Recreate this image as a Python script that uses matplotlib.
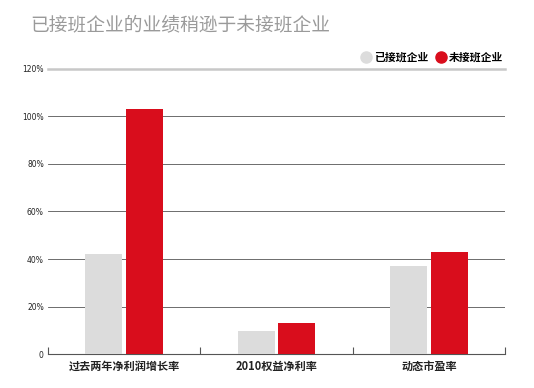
import matplotlib.pyplot as plt
import numpy as np

plt.rcParams['font.family'] = ['Noto Sans CJK SC', 'DejaVu Sans']

categories = ['过去两年净利润增长率', '2010权益净利率', '动态市盈率']
series_names = ['已接班企业', '未接班企业']
taken_over = [42, 9.7, 37]
not_taken_over = [103, 13, 43]
y_ticks = [0, 20, 40, 60, 80, 100, 120]
y_labels = ['0', '20%', '40%', '60%', '80%', '100%', '120%']

gray = '#dcdcdc'
red = '#d90d1c'

fig = plt.figure(figsize=(5.34, 3.88), dpi=100)
ax = fig.add_axes([0.0899, 0.0876, 0.8558, 0.7346])

x = np.arange(len(categories))
w = 0.243
ax.bar(x - 0.133, taken_over, w, color=gray, zorder=3)
ax.bar(x + 0.133, not_taken_over, w, color=red, zorder=3)

ax.set_xlim(-0.5, 2.5)
ax.set_ylim(0, 120)

ax.set_yticks(y_ticks)
ax.set_yticklabels(y_labels, fontsize=5.5, color='#222222', family='DejaVu Sans')
ax.tick_params(axis='y', length=0, pad=3)
ax.yaxis.grid(True, color='#555555', linewidth=0.6, zorder=0)

ax.set_xticks([-0.5, 0.5, 1.5, 2.5])
ax.set_xticklabels([])
ax.tick_params(axis='x', which='major', direction='in', length=5, color='#555555', width=0.8)
ax.set_xticks(x, minor=True)
ax.set_xticklabels(categories, minor=True, fontsize=8, fontweight='bold', color='#222222')
ax.tick_params(axis='x', which='minor', length=0, pad=4)

for s in ['left', 'right']:
    ax.spines[s].set_visible(False)
ax.spines['bottom'].set_color('#555555')
ax.spines['bottom'].set_linewidth(0.8)
ax.spines['top'].set_color('#c8c8c8')
ax.spines['top'].set_linewidth(1.8)

fig.text(0.056, 0.935, '已接班企业的业绩稍逊于未接班企业', fontsize=13.5, color='#9a9a9a', va='center')

handles = [plt.Line2D([], [], marker='o', linestyle='', markersize=8, color=c) for c in [gray, red]]
fig.legend(handles, series_names, loc='center right', bbox_to_anchor=(0.943, 0.852), ncol=2,
           frameon=False, handletextpad=0.3, columnspacing=0.7, handlelength=0.9,
           borderpad=0, borderaxespad=0,
           prop={'size': 7.8, 'weight': 'bold'})

fig.savefig('out.png', dpi=100)
